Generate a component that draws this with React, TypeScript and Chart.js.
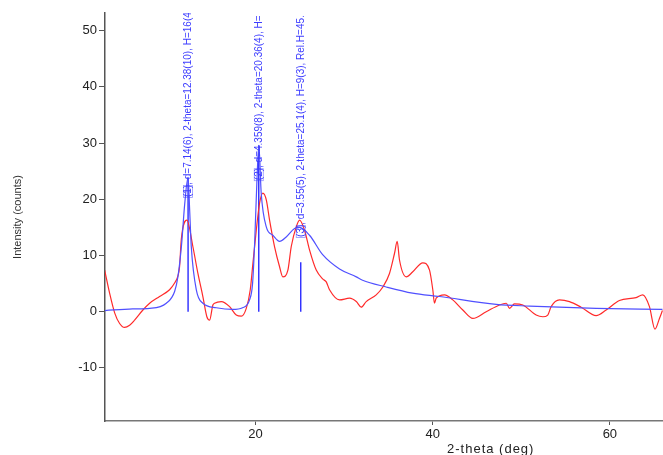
import React, { useEffect, useRef } from "react";
import { Chart, registerables } from "chart.js";
Chart.register(...registerables);

// Observed pattern (red)
const obsX = [2.96, 3.52, 4.09, 4.65, 5.21, 5.78, 6.34, 7.28, 8.04, 9.16, 10.29, 10.86, 11.2, 11.42, 11.61, 12.25, 12.92, 13.49, 14.05, 14.5, 14.81, 15.18, 15.37, 16.13, 17.07, 17.82, 18.39, 18.95, 19.4, 19.7, 20.08, 20.45, 20.82, 21.21, 21.58, 22.14, 22.71, 23.08, 23.65, 24.03, 24.59, 24.97, 25.53, 26.09, 26.85, 27.6, 27.98, 28.35, 29.48, 30.61, 31.37, 31.93, 32.49, 33.62, 34.37, 35.12, 35.69, 35.99, 36.25, 37.01, 37.75, 38.88, 39.64, 40.01, 40.2, 40.39, 41.33, 42.27, 43.4, 44.53, 46.04, 47.54, 48.3, 48.67, 49.23, 50.17, 51.68, 52.43, 52.99, 53.37, 54.31, 55.44, 56.76, 58.45, 59.58, 61.08, 62.97, 63.71, 64.47, 65.09, 65.6, 65.94];
const obsY = [7.4, 3.3, -0.2, -2.1, -2.8, -2.4, -1.5, 0.3, 1.5, 2.7, 3.9, 5.1, 6.2, 8.0, 12.8, 16.3, 11.6, 6.8, 2.7, -0.9, -1.5, 1.2, 1.5, 1.8, 0.9, -0.6, -0.8, 0.6, 3.9, 8.6, 14.5, 19.3, 21.1, 19.9, 16.3, 11.6, 8.0, 6.2, 7.4, 11.6, 15.1, 16.3, 14.5, 11.0, 7.4, 5.8, 5.3, 3.9, 2.1, 2.4, 1.8, 0.8, 1.8, 3.0, 4.4, 6.8, 10.4, 12.5, 9.2, 6.2, 7.1, 8.7, 7.4, 3.9, 1.5, 2.4, 3.0, 2.1, 0.3, -1.2, 0.0, 1.2, 1.5, 0.6, 1.4, 1.2, -0.6, -0.9, -0.6, 0.9, 2.1, 1.8, 0.8, -0.7, 0.3, 2.0, 2.5, 3.0, 0.9, -3.1, -1.2, 0.2];

// Calculated profile (blue)
const calcX = [2.96, 6.12, 8.04, 9.92, 10.86, 11.23, 11.65, 11.99, 12.38, 12.56, 12.74, 13.31, 14.05, 15.56, 17.4, 18.53, 19.32, 19.66, 19.89, 20.17, 20.37, 20.64, 21.21, 21.95, 22.71, 23.46, 24.4, 24.97, 26.09, 27.6, 29.48, 31.37, 32.08, 34.75, 37.72, 40.77, 47.17, 50.93, 58.45, 65.94];
const calcY = [0.2, 0.5, 0.6, 1.5, 3.6, 6.2, 12.0, 19.0, 23.9, 18.0, 11.6, 3.9, 1.5, 0.7, 0.4, 0.7, 2.1, 5.0, 12.0, 24.0, 29.6, 21.0, 15.1, 13.6, 12.5, 13.3, 14.8, 15.0, 13.6, 10.1, 7.6, 6.2, 5.6, 4.4, 3.3, 2.7, 1.3, 1.0, 0.6, 0.4];

// Peak sticks and labels
const peakX = [12.38, 20.36, 25.1];
const peakTop = [23.9, 29.6, 8.8];
const peakLabelY = [20.4, 23.4, 13.3];
const peakLabels = [
  "(1), d=7.14(6), 2-theta=12.38(10), H=16(4",
  "(2), d=4.359(8), 2-theta=20.36(4), H=",
  "(3), d=3.55(5), 2-theta=25.1(4), H=9(3), Rel.H=45.",
];

const xTicks = [20, 40, 60];
const yTicks = [-10, 0, 10, 20, 30, 40, 50];
const xTitle = "2-theta (deg)";
const yTitle = "Intensity (counts)";

const FAMILY = '"Liberation Sans", Arial, sans-serif';

const annotPlugin = {
  id: "annot",
  afterDatasetsDraw(chart: any) {
    const { ctx, chartArea, scales } = chart;
    const x = scales.x;
    const y = scales.y;
    ctx.save();
    ctx.beginPath();
    ctx.rect(chartArea.left, chartArea.top, chartArea.right - chartArea.left, chartArea.bottom - chartArea.top);
    ctx.clip();
    ctx.fillStyle = "#3c3cff";
    ctx.font = "10px " + FAMILY;
    peakX.forEach((pv, i) => {
      const cx = x.getPixelForValue(pv);
      const cy = y.getPixelForValue(peakLabelY[i]);
      ctx.save();
      ctx.translate(cx, cy);
      ctx.rotate(-Math.PI / 2);
      ctx.textAlign = "left";
      ctx.textBaseline = "middle";
      ctx.fillText(peakLabels[i], 0, 0.5);
      ctx.lineWidth = 0.8;
      ctx.strokeStyle = "rgba(60,60,255,0.55)";
      ctx.strokeRect(-0.5, -4.5, 12, 9);
      ctx.restore();
    });
    ctx.restore();
  },
  afterDraw(chart: any) {
    const { ctx } = chart;
    ctx.save();
    ctx.fillStyle = "#333";
    ctx.font = "11px " + FAMILY;
    ctx.textAlign = "center";
    ctx.textBaseline = "middle";
    ctx.translate(18, 217);
    ctx.rotate(-Math.PI / 2);
    ctx.fillText(yTitle, 0, 0);
    ctx.restore();

    ctx.save();
    ctx.fillStyle = "#222";
    ctx.font = "13px " + FAMILY;
    try { (ctx as any).letterSpacing = "1px"; } catch (e) {}
    ctx.textAlign = "left";
    ctx.textBaseline = "middle";
    ctx.fillText(xTitle, 447, 449);
    ctx.restore();
  },
};

export default function App() {
  const ref = useRef<HTMLCanvasElement>(null);
  useEffect(() => {
    document.body.style.margin = "0";
    const canvas = ref.current!;
    const datasets: any[] = [
      {
        label: "calc",
        data: calcX.map((v, i) => ({ x: v, y: calcY[i] })),
        borderColor: "#5050ff",
        borderWidth: 1.2,
        pointRadius: 0,
        cubicInterpolationMode: "monotone",
        fill: false,
      },
      {
        label: "obs",
        data: obsX.map((v, i) => ({ x: v, y: obsY[i] })),
        borderColor: "#ff2a2a",
        borderWidth: 1.2,
        pointRadius: 0,
        cubicInterpolationMode: "monotone",
        fill: false,
      },
    ];
    peakX.forEach((pv, i) => {
      datasets.push({
        label: "stick" + (i + 1),
        data: [
          { x: pv, y: 0 },
          { x: pv, y: peakTop[i] },
        ],
        borderColor: "#2a2aff",
        borderWidth: 1.4,
        pointRadius: 0,
        fill: false,
      });
    });
    const chart = new Chart(canvas, {
      type: "line",
      data: { datasets },
      options: {
        animation: false,
        responsive: false,
        maintainAspectRatio: false,
        layout: { padding: { top: 13, left: 0, right: 0, bottom: 0 } },
        plugins: { legend: { display: false }, tooltip: { enabled: false } },
        scales: {
          x: {
            type: "linear",
            min: 3,
            max: 66,
            afterBuildTicks: (s: any) => {
              s.ticks = xTicks.map((v) => ({ value: v }));
            },
            afterFit: (s: any) => {
              s.height = 34;
            },
            grid: { drawOnChartArea: false, drawTicks: true, tickLength: 4, color: "#555", lineWidth: 1 },
            border: { display: true, color: "#777", width: 1.5 },
            ticks: { color: "#222", font: { size: 13, family: FAMILY }, padding: 2, maxRotation: 0, autoSkip: false },
          },
          y: {
            type: "linear",
            min: -19.45,
            max: 53.15,
            afterBuildTicks: (s: any) => {
              s.ticks = yTicks.map((v) => ({ value: v }));
            },
            afterFit: (s: any) => {
              s.width = 105;
            },
            grid: { drawOnChartArea: false, drawTicks: true, tickLength: 6, color: "#555", lineWidth: 1 },
            border: { display: true, color: "#555", width: 1.5 },
            ticks: { color: "#222", font: { size: 13, family: FAMILY }, padding: 2, autoSkip: false },
          },
        },
      },
      plugins: [annotPlugin],
    } as any);
    return () => chart.destroy();
  }, []);
  return (
    <canvas
      ref={ref}
      width={663}
      height={455}
      style={{ display: "block", position: "fixed", left: 0, top: 0, width: 663, height: 455 }}
    />
  );
}
